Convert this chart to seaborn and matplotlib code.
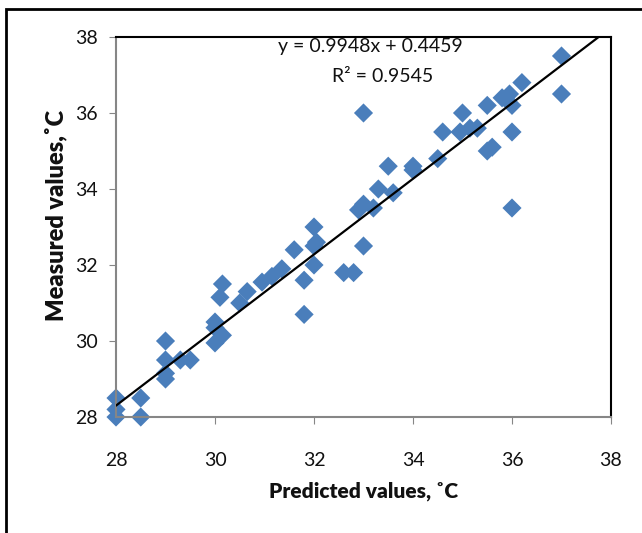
import numpy as np
import pandas as pd
import seaborn as sns
import matplotlib.pyplot as plt
from matplotlib.patches import Rectangle

# values
predicted = [28, 28, 28, 28.5, 28.5, 29, 29, 29, 29, 29.3, 29.5,
             30, 30, 30, 30.15, 30.1, 30.15, 30.5, 30.65, 30.95, 31.15, 31.35,
             31.6, 31.8, 31.8, 32, 32, 32.05, 32, 32.6, 32.8, 32.9, 33, 33, 33,
             33.2, 33.3, 33.5, 33.6, 34, 34, 34.5, 34.6, 35, 34.95, 35.15, 35.3,
             35.5, 35.5, 35.6, 35.8, 35.95, 36, 36, 36, 36.2, 37, 37]
measured = [28.5, 28.2, 28.0, 28.5, 28.0, 30.0, 29.5, 29.15, 29.0, 29.5, 29.5,
            30.5, 30.35, 29.95, 30.15, 31.15, 31.5, 31.0, 31.3, 31.55, 31.7, 31.9,
            32.4, 31.6, 30.7, 33.0, 32.5, 32.6, 32.0, 31.8, 31.8, 33.45, 33.6, 32.5, 36.0,
            33.5, 34.0, 34.6, 33.9, 34.6, 34.5, 34.8, 35.5, 36.0, 35.5, 35.6, 35.6,
            36.2, 35.0, 35.1, 36.4, 36.5, 36.2, 35.5, 33.5, 36.8, 37.5, 36.5]
slope = 0.9948
intercept = 0.4459
r2 = 0.9545

df = pd.DataFrame({"pred": predicted, "meas": measured})
fit_x = np.array([28, 38])
fit = pd.DataFrame({"x": fit_x, "y": slope * fit_x + intercept})

sns.set_style("white")
plt.rcParams["font.family"] = ["Lato", "DejaVu Sans"]

fig = plt.figure(figsize=(6.42, 5.33), dpi=100)
ax = fig.add_axes([0.1807, 0.2176, 0.7710, 0.7130])

sns.scatterplot(data=df, x="pred", y="meas", marker="D", s=95, color="#4a7ebb",
                edgecolor="none", ax=ax, zorder=2, clip_on=False)
sns.lineplot(data=fit, x="x", y="y", color="black", linewidth=1.6, ax=ax, zorder=3)

ax.set_xlim(28, 38)
ax.set_ylim(28, 38)
ax.set_xticks(range(28, 39, 2))
ax.set_yticks(range(28, 39, 2))
ax.tick_params(axis="both", labelsize=14, color="#868686", length=5, direction="out",
               labelcolor="#111111")
ax.tick_params(axis="x", pad=20, bottom=True)
ax.tick_params(axis="y", pad=8, left=True)
for s in ["left", "bottom"]:
    ax.spines[s].set_color("#868686")
    ax.spines[s].set_linewidth(1.5)
for s in ["top", "right"]:
    ax.spines[s].set_color("black")
    ax.spines[s].set_linewidth(1.5)

ax.set_xlabel("Predicted values, \u02daC", fontsize=15, fontweight="heavy", labelpad=9,
              color="#111111")
ax.set_ylabel("Measured values,\u02daC", fontsize=17, fontweight="heavy",
              color="#111111")
ax.yaxis.set_label_coords(-0.098, 0.53)

ax.text(0.513, 0.975, "y = 0.9948x + 0.4459", transform=ax.transAxes, fontsize=14,
        ha="center", va="center", color="#111111")
ax.text(0.539, 0.897, "R\u00b2 = %.4f" % r2, transform=ax.transAxes, fontsize=14,
        ha="center", va="center", color="#111111")

# outer chart border, cut off at the right and bottom
fig.patches.append(Rectangle((6 / 642, -0.2), 1.2, 1 - 9 / 533 + 0.2,
                             transform=fig.transFigure, fill=False,
                             edgecolor="black", linewidth=2))

fig.savefig("out.png", dpi=100)
